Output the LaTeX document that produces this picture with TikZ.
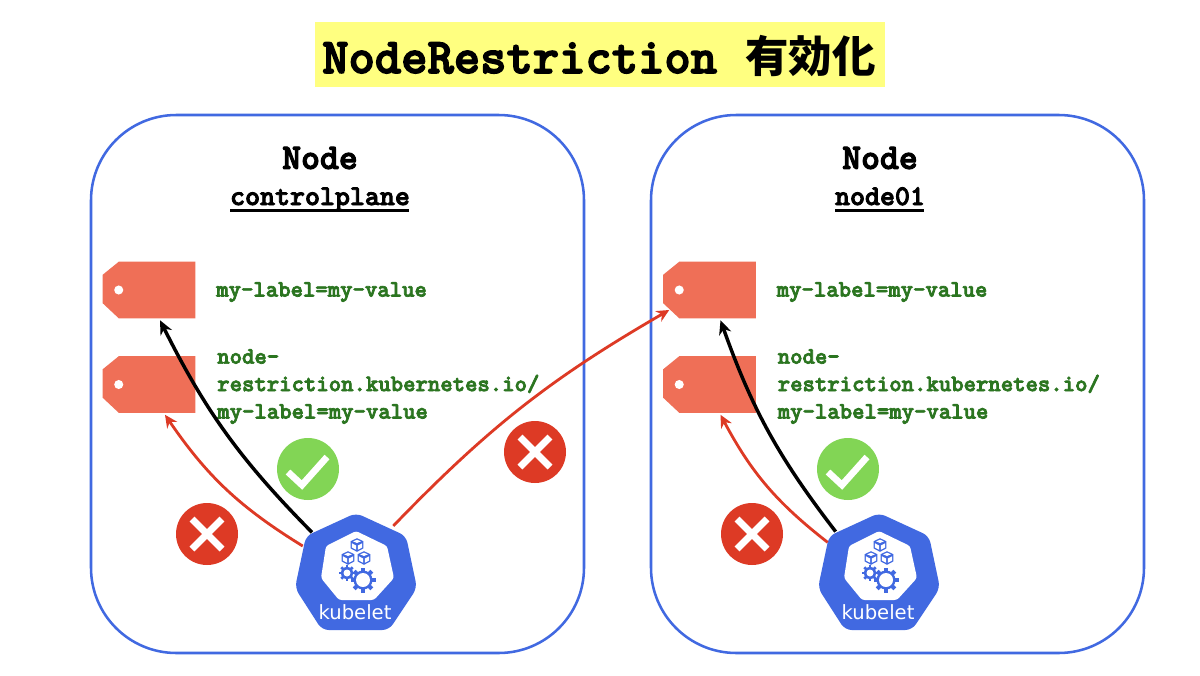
\documentclass[tikz,border=0pt]{standalone}
\usepackage{fontspec}
\usetikzlibrary{arrows.meta,calc}
\newfontfamily\codefont{Latin Modern Mono Light}
\newfontfamily\cjkfont{Noto Sans CJK JP}
\newfontfamily\kubefont{DejaVu Sans}
\newcommand{\heavy}[2]{\special{pdf:code q 2 Tr #1 w}#2\special{pdf:code Q}}
\definecolor{boxblue}{HTML}{4169E1}
\definecolor{tagred}{HTML}{EF6F57}
\definecolor{arrowred}{HTML}{DD3A25}
\definecolor{okgreen}{HTML}{82D555}
\definecolor{labelgreen}{HTML}{2B7520}
\definecolor{titleyellow}{HTML}{FFFF80}
\tikzset{
  x=0.75pt,y=-0.75pt,
  nodebox/.style={draw=boxblue,line width=1.9pt,rounded corners=64pt,fill=white},
  headingtext/.style={font=\codefont\bfseries\fontsize{27}{30}\selectfont,inner sep=0pt},
  subtext/.style={font=\codefont\bfseries\fontsize{21.4}{24}\selectfont,inner sep=0pt,anchor=base},
  labeltext/.style={font=\codefont\bfseries\fontsize{17.7}{20.6}\selectfont,text=labelgreen,inner sep=0pt,anchor=west,align=left},
  tagbox/.style={minimum width=69pt,minimum height=42pt,inner sep=0pt},
  kubeanchor/.style={circle,minimum size=88.5pt,inner sep=0pt},
  markcircle/.style={circle,minimum size=46.5pt,inner sep=0pt},
  blackarrow/.style={draw=black,line width=2.6pt,-{Stealth[length=10.5pt,width=9.5pt]}},
  redarrow/.style={draw=arrowred,line width=2.1pt,-{Stealth[length=9.5pt,width=9pt]}},
  ulineblack/.style={draw=black,line width=1.9pt},
}
\newcommand{\drawtag}[1]{%
  \fill[tagred] ($(#1.north east)$) -- ($(#1.north west)+(16,0)$) -- ($(#1.north west)+(0,13)$)
     -- ($(#1.south west)+(0,-15)$) -- ($(#1.south west)+(16,0)$) -- ($(#1.south east)$) -- cycle;
  \fill[white] ($(#1.west)+(16,0)$) circle (3.4pt);
}
\newcommand{\drawcube}[2]{%
  \begin{scope}[shift={(#1,#2)},scale=0.85]
    \fill[boxblue] (0,-8) -- (7.5,-4.5) -- (7.5,4) -- (0,8) -- (-7.5,4) -- (-7.5,-4.5) -- cycle;
    \fill[white] (-6,-2) -- (-1,.6) -- (-1,5.6) -- (-6,3) -- cycle;
    \fill[white] (6,-2) -- (1,.6) -- (1,5.6) -- (6,3) -- cycle;
    \fill[white] (0,-6.2) -- (4.6,-4.3) -- (0,-2.4) -- (-4.6,-4.3) -- cycle;
  \end{scope}}
\newcommand{\drawgear}[4]{% x y outer-radius hole-radius
  \begin{scope}[shift={(#1,#2)}]
    \foreach \a in {0,45,...,135}{
      \fill[boxblue,rotate=\a] (-.16*#3,-#3) rectangle (.16*#3,#3);
    }
    \fill[boxblue] (0,0) circle ({.76*#3*0.75pt});
    \fill[white] (0,0) circle ({#4*0.75pt});
  \end{scope}}
\newcommand{\drawkube}[1]{%
  \fill[boxblue,rounded corners=5pt] ($(#1)+(0,-59)$) -- ($(#1)+(50,-36)$) -- ($(#1)+(61,16)$) -- ($(#1)+(33,58)$)
     -- ($(#1)+(-34,58)$) -- ($(#1)+(-61,16)$) -- ($(#1)+(-50,-36)$) -- cycle;
  \fill[white,rounded corners=2pt] ($(#1)+(0,-41)$) -- ($(#1)+(31,-26)$) -- ($(#1)+(38,6)$) -- ($(#1)+(18,28)$)
     -- ($(#1)+(-17,28)$) -- ($(#1)+(-35,6)$) -- ($(#1)+(-30,-26)$) -- cycle;
  \path (#1) coordinate (kc);
  \begin{scope}[shift={(kc)}]
    \drawcube{1}{-27}
    \drawcube{-8}{-14}
    \drawcube{8}{-14}
    \drawgear{-9}{1}{8}{3.5}
    \drawgear{7}{8}{12.5}{7}
  \end{scope}
}
\begin{document}
\begin{tikzpicture}
\useasboundingbox (0,0) rectangle (1200,675);
\fill[white] (0,0) rectangle (1200,675);
% title
\fill[titleyellow] (315,22) rectangle (885,87);
\node[font=\codefont\bfseries\fontsize{37.6}{40}\selectfont,inner sep=0pt,anchor=west] (title) at (322,58) {\heavy{1.1}{NodeRestriction}};
\node[font=\cjkfont\bfseries\fontsize{32.6}{36}\selectfont,inner sep=0pt,anchor=west] (titlecjk) at (745,56) {有効化};
% node boxes
\draw[nodebox] (91,115) rectangle (584,653);
\draw[nodebox] (651,115) rectangle (1144,653);
% headings
\node[headingtext] (h1) at (320,158) {\heavy{0.8}{Node}};
\node[headingtext] (h2) at (880,158) {\heavy{0.8}{Node}};
\node[subtext] (s1) at (320,205) {\heavy{0.65}{controlplane}};
\node[subtext] (s2) at (880,205) {\heavy{0.65}{node01}};
\draw[ulineblack] (230,210.5) -- (409,210.5);
\draw[ulineblack] (835,210.5) -- (924,210.5);
% tags
\node[tagbox] (t1) at (149,290) {};
\node[tagbox] (t2) at (149,384.5) {};
\node[tagbox] (t3) at (709.5,290) {};
\node[tagbox] (t4) at (709.5,384.5) {};
\drawtag{t1}\drawtag{t2}\drawtag{t3}\drawtag{t4}
% labels
\node[labeltext] (l1) at (216,292) {\heavy{0.55}{my-label=my-value}};
\node[labeltext] (l2) at (217,386.5) {\heavy{0.55}{node-}\\\heavy{0.55}{restriction.kubernetes.io/}\\\heavy{0.55}{my-label=my-value}};
\node[labeltext] (l3) at (776.5,292) {\heavy{0.55}{my-label=my-value}};
\node[labeltext] (l4) at (777.5,386.5) {\heavy{0.55}{node-}\\\heavy{0.55}{restriction.kubernetes.io/}\\\heavy{0.55}{my-label=my-value}};
% kubelets
\node[kubeanchor] (k1) at (356,572) {};
\node[kubeanchor] (k2) at (879,572) {};
\drawkube{k1}
\drawkube{k2}
\node[font=\kubefont\fontsize{14.7}{16}\selectfont,text=white,inner sep=0pt] (kt1) at (355,612) {kubelet};
\node[font=\kubefont\fontsize{14.7}{16}\selectfont,text=white,inner sep=0pt] (kt2) at (878,612) {kubelet};
% marks
\node[markcircle,fill=okgreen] (ok1) at (308,469) {};
\node[markcircle,fill=okgreen] (ok2) at (848,469) {};
\node[markcircle,fill=arrowred] (no1) at (207,534) {};
\node[markcircle,fill=arrowred] (no2) at (535,452) {};
\node[markcircle,fill=arrowred] (no3) at (752,534) {};
\foreach \n in {ok1,ok2}{
  \draw[white,line width=5pt] ($(\n)+(-20,3)$) -- ($(\n)+(-6,16)$) -- ($(\n)+(19,-12)$);
}
\foreach \n in {no1,no2,no3}{
  \draw[white,line width=5.2pt] ($(\n)+(-15,-15)$) -- ($(\n)+(15,15)$);
  \draw[white,line width=5.2pt] ($(\n)+(-15,15)$) -- ($(\n)+(15,-15)$);
}
% arrows
\draw[blackarrow] (k1.138) to[bend left=9] ($(t1.south)+(11,2)$);
\draw[redarrow] (k1.154) to[bend left=12] ($(t2.south)+(16,2)$);
\draw[redarrow] (k1.51) to[bend left=8] ($(t3.west)+(6,20)$);
\draw[blackarrow] (k2.137) to[bend left=9] ($(t3.south)+(11,2)$);
\draw[redarrow] (k2.150) to[bend left=12] ($(t4.south)+(11,2)$);
\end{tikzpicture}
\end{document}
